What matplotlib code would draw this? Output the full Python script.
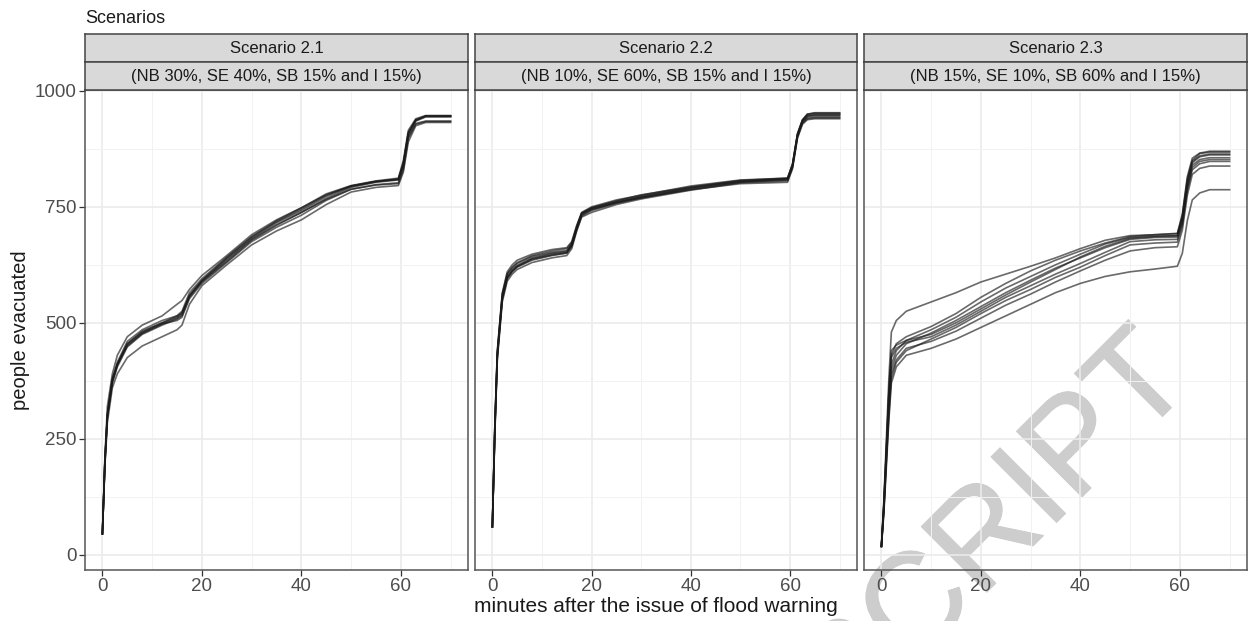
import matplotlib
matplotlib.use("Agg")
import matplotlib.pyplot as plt
import matplotlib.patheffects as pe
from matplotlib.ticker import FixedLocator

plt.rcParams['font.family'] = ['Liberation Sans', 'DejaVu Sans']

# ---------------- data ----------------
strip_titles = ["Scenario 2.1", "Scenario 2.2", "Scenario 2.3"]
strip_subtitles = ["(NB 30%, SE 40%, SB 15% and I 15%)",
                   "(NB 10%, SE 60%, SB 15% and I 15%)",
                   "(NB 15%, SE 10%, SB 60% and I 15%)"]

t_s21 = [0, 0.5, 1, 2, 3, 5, 8, 12, 15, 16, 17.5, 20, 25, 30, 35, 40, 45, 50, 55,
         59.5, 60.5, 61.5, 63, 65, 70]
runs_s21 = [
    [45, 210, 320, 390, 430, 470, 495, 515, 540, 548, 572, 602, 645, 690, 722, 748, 778, 796, 806, 812, 850, 915, 940, 947, 947],
    [45, 200, 300, 375, 410, 455, 480, 500, 512, 520, 560, 592, 640, 685, 718, 745, 775, 795, 805, 810, 845, 910, 938, 946, 946],
    [45, 195, 295, 370, 405, 448, 475, 495, 508, 515, 555, 588, 632, 678, 710, 738, 768, 792, 803, 808, 840, 905, 935, 944, 944],
    [45, 190, 285, 360, 390, 425, 450, 470, 485, 495, 540, 580, 625, 668, 698, 722, 755, 782, 792, 796, 825, 890, 925, 932, 932],
    [45, 205, 305, 380, 415, 460, 485, 505, 515, 522, 558, 590, 638, 682, 716, 742, 772, 794, 804, 810, 842, 908, 936, 945, 945],
    [45, 200, 300, 372, 408, 452, 478, 498, 505, 512, 552, 585, 630, 675, 706, 732, 764, 788, 798, 802, 835, 900, 930, 935, 935],
    [45, 198, 298, 378, 412, 455, 482, 500, 515, 525, 565, 595, 642, 686, 720, 748, 776, 795, 805, 809, 843, 910, 937, 946, 946],
    [45, 202, 302, 376, 410, 450, 477, 497, 510, 518, 558, 590, 635, 680, 712, 738, 766, 788, 797, 800, 830, 898, 928, 934, 934],
]

t_s22 = [0, 0.5, 1, 2, 3, 4, 5, 8, 12, 15, 16, 17, 18, 20, 25, 30, 40, 50, 59.5,
         60.5, 61.5, 62.5, 63.5, 65, 70]
runs_s22 = [
    [60, 280, 440, 565, 610, 625, 635, 648, 658, 662, 675, 710, 738, 750, 765, 775, 795, 808, 812, 842, 908, 938, 950, 952, 952],
    [60, 270, 430, 555, 598, 612, 622, 638, 648, 652, 668, 702, 734, 745, 760, 770, 790, 804, 810, 838, 905, 935, 946, 948, 948],
    [60, 260, 420, 545, 590, 605, 615, 630, 640, 645, 660, 698, 728, 738, 755, 767, 786, 802, 806, 835, 900, 930, 940, 942, 942],
    [60, 275, 435, 560, 605, 618, 628, 643, 652, 656, 670, 706, 736, 748, 762, 773, 792, 806, 811, 841, 906, 936, 948, 950, 950],
    [60, 265, 425, 550, 595, 610, 620, 635, 645, 650, 664, 700, 730, 742, 758, 769, 788, 803, 808, 836, 902, 932, 942, 944, 944],
    [60, 272, 432, 556, 600, 614, 624, 640, 650, 654, 669, 705, 735, 746, 760, 772, 791, 805, 809, 839, 904, 934, 945, 947, 947],
    [60, 268, 428, 552, 597, 611, 621, 637, 646, 651, 666, 703, 732, 744, 758, 770, 787, 800, 803, 832, 898, 928, 938, 940, 940],
    [60, 278, 438, 562, 606, 620, 630, 645, 655, 660, 673, 708, 737, 748, 763, 776, 793, 807, 812, 842, 907, 937, 950, 953, 953],
]

t_s23 = [0, 0.5, 1, 1.5, 2, 3, 5, 10, 15, 20, 25, 30, 35, 40, 45, 50, 55, 59.5,
         60.5, 61.5, 62.5, 64, 66, 70]
runs_s23 = [
    [18, 120, 250, 380, 480, 505, 525, 545, 565, 588, 605, 622, 640, 660, 678, 688, 690, 693, 730, 810, 850, 865, 868, 868],
    [18, 110, 230, 350, 430, 455, 470, 492, 520, 555, 585, 612, 635, 655, 672, 686, 690, 692, 735, 815, 855, 866, 870, 870],
    [18, 105, 220, 330, 410, 440, 462, 485, 512, 545, 575, 600, 625, 648, 670, 684, 687, 688, 725, 800, 845, 858, 862, 862],
    [18, 100, 210, 320, 400, 430, 455, 478, 505, 535, 565, 592, 618, 640, 662, 680, 684, 685, 720, 795, 840, 852, 856, 856],
    [18, 108, 225, 345, 425, 445, 458, 470, 495, 525, 555, 580, 605, 628, 652, 675, 679, 680, 715, 790, 835, 848, 852, 852],
    [18, 95, 200, 300, 380, 415, 440, 465, 490, 520, 548, 572, 598, 620, 645, 668, 672, 674, 710, 785, 830, 843, 848, 848],
    [18, 100, 205, 310, 390, 420, 445, 460, 482, 510, 538, 562, 588, 612, 635, 655, 662, 664, 700, 775, 820, 833, 838, 838],
    [18, 112, 232, 355, 440, 452, 462, 475, 500, 530, 560, 588, 615, 642, 665, 682, 686, 688, 728, 805, 848, 860, 864, 864],
    [18, 90, 190, 290, 370, 405, 430, 445, 465, 490, 515, 540, 565, 585, 600, 610, 616, 622, 650, 720, 765, 780, 787, 787],
]

panel_times = [t_s21, t_s22, t_s23]
panel_runs = [runs_s21, runs_s22, runs_s23]

x_major = [0, 20, 40, 60]
x_minor = [10, 30, 50, 70]
y_major = [0, 250, 500, 750, 1000]
y_minor = [125, 375, 625, 875]

# ---------------- layout ----------------
W, H = 1251, 621
fig = plt.figure(figsize=(W / 100, H / 100), dpi=100)
fig.patch.set_facecolor("white")

lefts = [85, 475, 864]
widths = [383, 382, 383]
pan_top, pan_bot = 90, 570
strip_h = 28

for i in range(3):
    l = lefts[i] / W
    w = widths[i] / W
    ax = fig.add_axes([l, 1 - pan_bot / H, w, (pan_bot - pan_top) / H])
    ax.set_facecolor("none")
    ax.set_xlim(-3.5, 73.5)
    ax.set_ylim(-33, 1002)
    ax.xaxis.set_major_locator(FixedLocator(x_major))
    ax.xaxis.set_minor_locator(FixedLocator(x_minor))
    ax.yaxis.set_major_locator(FixedLocator(y_major))
    ax.yaxis.set_minor_locator(FixedLocator(y_minor))
    ax.grid(which="major", color="#EBEBEB", lw=1.2)
    ax.grid(which="minor", color="#F2F2F2", lw=0.7)
    ax.set_axisbelow(True)
    for s in ax.spines.values():
        s.set_color("#555555")
        s.set_linewidth(1.1)
    ax.tick_params(which="minor", length=0)
    ax.tick_params(which="major", length=4, width=0.9, color="#333333",
                   labelsize=13.5, labelcolor="#4D4D4D", pad=2)
    if i > 0:
        ax.tick_params(axis="y", which="major", length=0, labelleft=False)

    for run in panel_runs[i]:
        ax.plot(panel_times[i], run, color="#1a1a1a", alpha=0.65, lw=1.2,
                solid_joinstyle="round")

    # strips
    for k, (txt, top) in enumerate([(strip_titles[i], 34), (strip_subtitles[i], 62)]):
        sax = fig.add_axes([l, 1 - (top + strip_h) / H, w, strip_h / H])
        sax.set_facecolor("#D9D9D9")
        sax.set_xticks([])
        sax.set_yticks([])
        for s in sax.spines.values():
            s.set_color("#444444")
            s.set_linewidth(1.1)
        sax.text(0.5, 0.48, txt, ha="center", va="center", fontsize=12,
                 color="#1A1A1A", transform=sax.transAxes)

fig.text(85 / W, 1 - 23 / H, "Scenarios", ha="left", va="baseline",
         fontsize=13, color="#1A1A1A")
fig.text(21 / W, 1 - 330 / H, "people evacuated", rotation=90, ha="center",
         va="center", fontsize=14.5, color="#1A1A1A")
fig.text(656 / W, 1 - 612 / H, "minutes after the issue of flood warning",
         ha="center", va="baseline", fontsize=15, color="#1A1A1A")

# watermark (behind the panels' content)
fig.text(1196 / W, 1 - 383 / H, "MANUSCRIPT", rotation=45, rotation_mode="anchor",
         ha="right", va="baseline", fontsize=97, color="#CDCDCD", zorder=-1,
         path_effects=[pe.withStroke(linewidth=0.8, foreground="#CDCDCD")])

fig.savefig("out.png", dpi=100, facecolor="white")
